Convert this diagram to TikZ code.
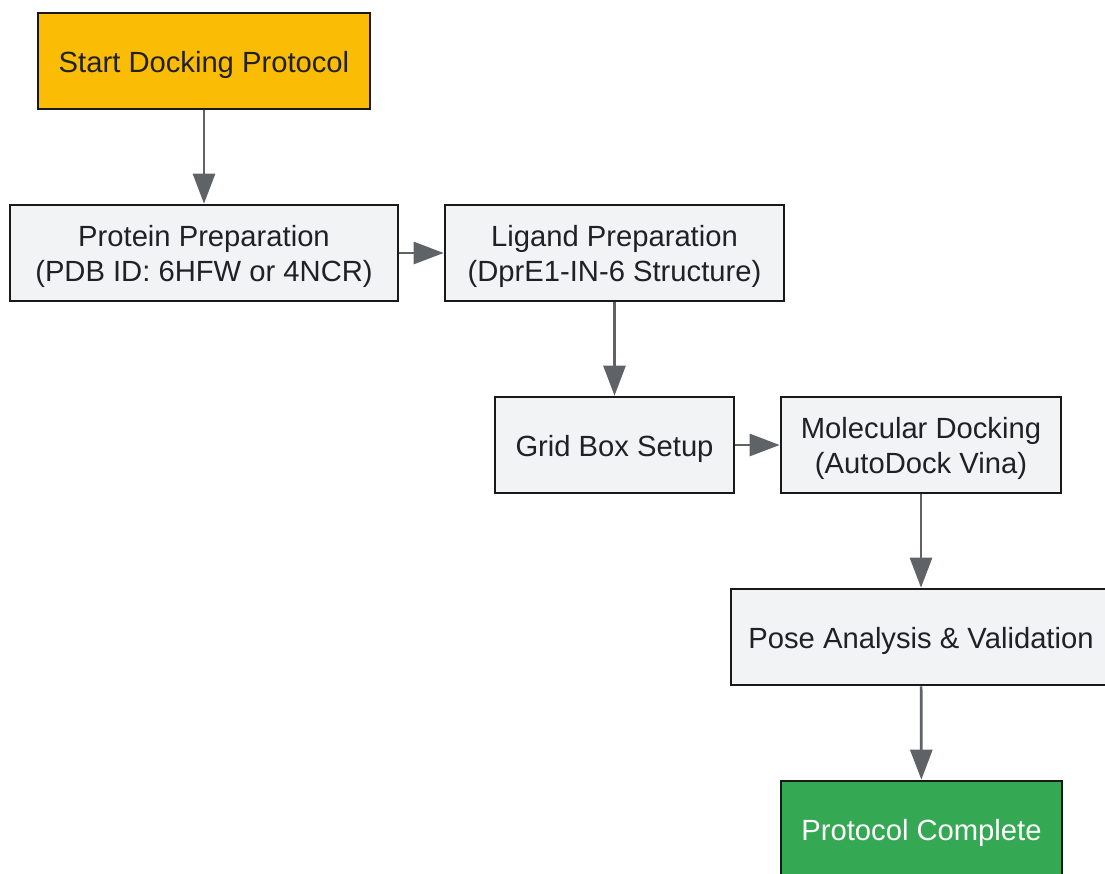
\documentclass[tikz,border=0pt]{standalone}
\usepackage{fontspec}
\setmainfont{Liberation Sans}
\usetikzlibrary{arrows.meta,positioning}
\definecolor{startyellow}{HTML}{FBBC05}
\definecolor{stepgray}{HTML}{F1F3F4}
\definecolor{donegreen}{HTML}{34A853}
\definecolor{arrowgray}{HTML}{5F6368}
\definecolor{textdark}{HTML}{202124}

\begin{document}
\begin{tikzpicture}[x=1pt,y=-1pt,
    stepbox/.style={draw=black!90, line width=2.6pt, fill=stepgray, text=textdark,
        minimum height=96pt, inner sep=0pt, align=center,
        font=\fontsize{29.2}{35}\selectfont,
        execute at begin node={\rule{0pt}{29pt}}},
    twoline/.style={execute at begin node={\rule{0pt}{64pt}}},
    flow/.style={-{Triangle[length=30pt,width=22pt]}, line width=2.7pt, draw=arrowgray}]
    \useasboundingbox (0,0) rectangle (1105,873);
    % Main docking steps
    \node[stepbox, fill=startyellow, minimum width=332pt] (start) at (204,61) {Start Docking Protocol};
    \node[stepbox, twoline, minimum width=388pt] (protein) at (204,253) {Protein Preparation\\(PDB ID: 6HFW or 4NCR)};
    \node[stepbox, twoline, minimum width=339pt] (ligand) at (614.5,253) {Ligand Preparation\\(DprE1-IN-6 Structure)};
    \node[stepbox, minimum width=239pt] (grid) at (614.5,445) {Grid Box Setup};
    \node[stepbox, twoline, minimum width=280pt] (docking) at (921,445) {Molecular Docking\\(AutoDock Vina)};
    \node[stepbox, minimum width=380pt] (pose) at (921,637) {Pose Analysis \& Validation};
    \node[stepbox, fill=donegreen, text=white, minimum width=281pt] (complete) at (921.5,829) {Protocol Complete};
    % Connectors
    \draw[flow] (start) -- (protein);
    \draw[flow] (protein) -- (ligand);
    \draw[flow] (ligand) -- (grid);
    \draw[flow] (grid) -- (docking);
    \draw[flow] (docking) -- (pose);
    \draw[flow] (pose) -- (complete);
\end{tikzpicture}
\end{document}
